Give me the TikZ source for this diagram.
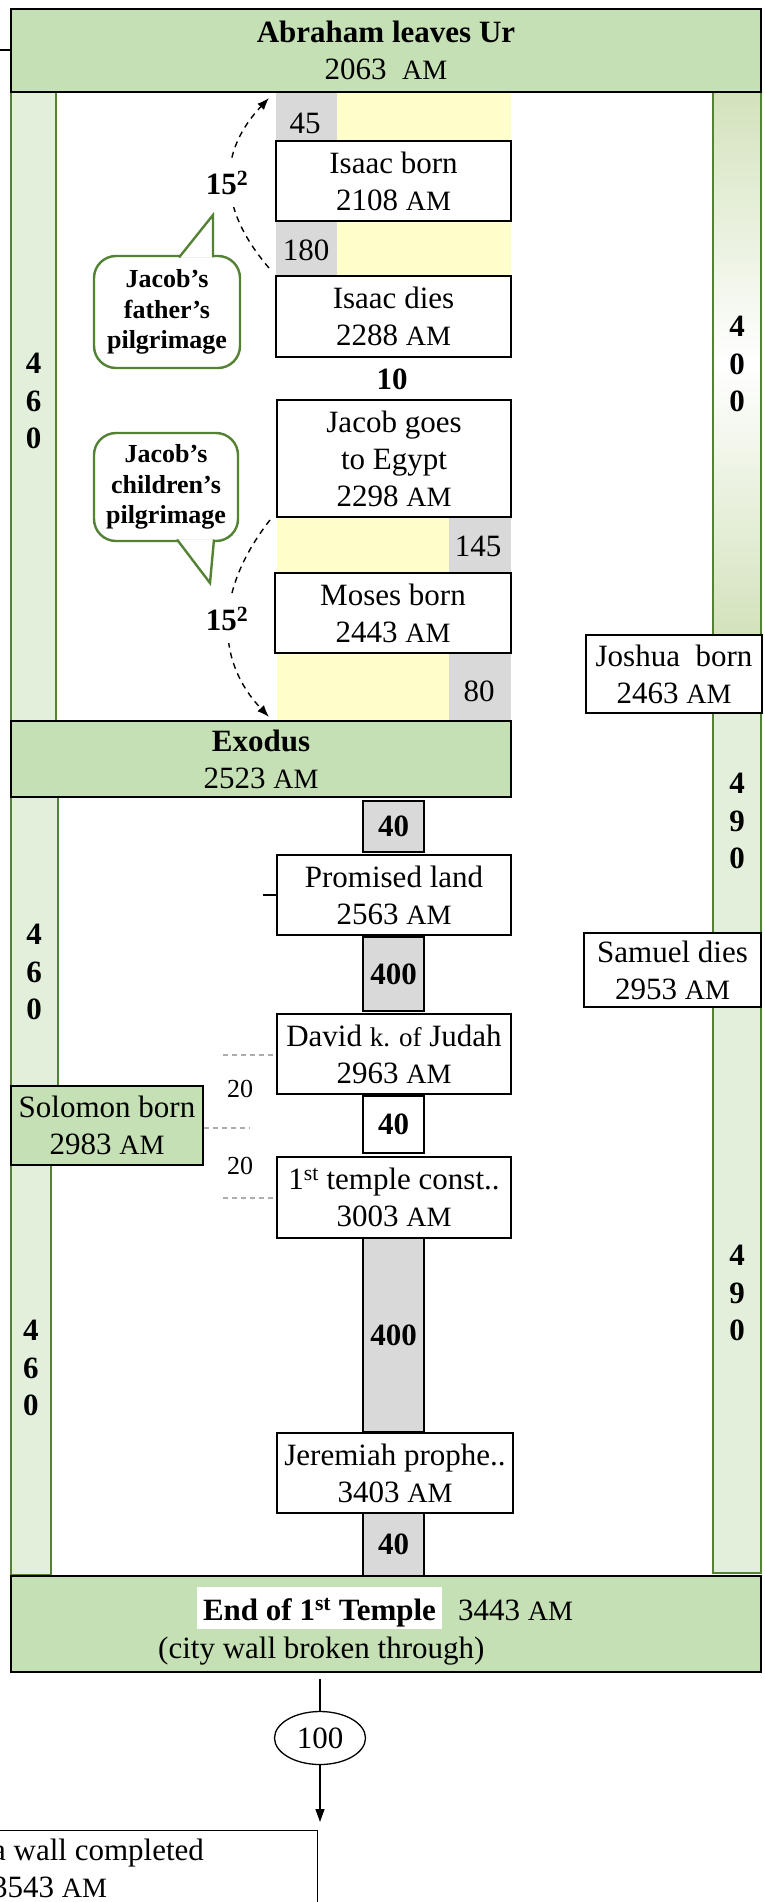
\documentclass[tikz,border=0pt]{standalone}
\usepackage{fontspec}
\setmainfont{Liberation Serif}
\usetikzlibrary{calc, arrows.meta, shapes.geometric}

\definecolor{lightgreen}{HTML}{C5E0B4}
\definecolor{palegreen}{HTML}{E2EFDA}
\definecolor{shadegreen}{HTML}{D3E2BC}
\definecolor{edgegreen}{HTML}{548235}
\definecolor{paleyellow}{HTML}{FFFFCC}
\definecolor{cellgray}{HTML}{D9D9D9}
\definecolor{dashgray}{HTML}{ADADAD}

\newcommand{\amyr}{{\fontsize{28}{37}\selectfont AM}}

\begin{document}
\begin{tikzpicture}[x=1pt, y=-1pt,
    font=\fontsize{31}{37}\selectfont,
    evbox/.style={draw, line width=1.3pt, fill=white, align=center,
        inner sep=0pt, minimum width=235pt, minimum height=80pt},
    greenbox/.style={evbox, fill=lightgreen},
    yearbox/.style={draw, line width=2.2pt, fill=cellgray, inner sep=0pt,
        minimum width=61pt, font=\bfseries\fontsize{31}{37}\selectfont},
    bar/.style={draw=edgegreen, line width=2.2pt, fill=palegreen},
    digits/.style={align=center, inner sep=0pt,
        font=\bfseries\fontsize{31}{37.5}\selectfont},
    callout/.style={draw=edgegreen, line width=2.4pt, fill=white},
    callouttext/.style={align=center, inner sep=0pt,
        font=\bfseries\fontsize{26}{30.5}\selectfont},
    pilgrim/.style={dashed, dash pattern=on 6pt off 5pt, line width=1.4pt,
        -{Latex[length=12pt, width=9pt]}},
    square/.style={fill=white, inner xsep=3pt, inner ysep=12pt,
        font=\bfseries\fontsize{31}{37}\selectfont},
    gapline/.style={draw=dashgray, line width=1.5pt, dash pattern=on 5pt off 4pt},
    small/.style={inner sep=0pt, font=\fontsize{26}{30}\selectfont}]

    \clip (0,0) rectangle (765,1902);
    \useasboundingbox (0,0) rectangle (765,1902);

    % side bars
    \draw[bar] (11,92) rectangle (56,721);
    \draw[bar] (11,797) rectangle (58,1140);
    \draw[bar] (11,1140) rectangle (51,1575);
    \draw[bar, top color=shadegreen, bottom color=shadegreen, middle color=white]
        (713,92) rectangle (761,635);
    \draw[bar] (713,713) rectangle (761,933);
    \draw[bar] (713,1007) rectangle (761,1573);

    \node[digits] (l460a) at (33.5,401) {4\\6\\0};
    \node[digits] (l460b) at (34,972) {4\\6\\0};
    \node[digits] (l460c) at (31,1368) {4\\6\\0};
    \node[digits] (r400) at (737,364) {4\\0\\0};
    \node[digits] (r490a) at (737,821) {4\\9\\0};
    \node[digits] (r490b) at (737,1293) {4\\9\\0};

    % coloured year cells
    \fill[cellgray] (276,92) rectangle (337,141);
    \fill[paleyellow] (337,92) rectangle (511,141);
    \fill[cellgray] (276,221) rectangle (337,276);
    \fill[paleyellow] (337,221) rectangle (511,276);
    \fill[paleyellow] (277,517) rectangle (449,573);
    \fill[cellgray] (449,517) rectangle (511,573);
    \fill[paleyellow] (277,653) rectangle (449,721);
    \fill[cellgray] (449,653) rectangle (511,721);
    \node (c45) at (305,123) {45};
    \node (c180) at (306,250) {180};
    \node (c145) at (478,546) {145};
    \node (c80) at (479,691) {80};

    % main column
    \node[greenbox, minimum width=750pt, minimum height=83pt] (ur) at (386,50.5)
        {\textbf{Abraham leaves Ur}\\2063~ \amyr};
    \node[evbox] (isaacb) at (393.5,181) {Isaac born\\2108 \amyr};
    \node[evbox, minimum height=81pt] (isaacd) at (393.5,316.5) {Isaac dies\\2288 \amyr};
    \node[font=\bfseries\fontsize{31}{37}\selectfont] (ten) at (392,379) {10};
    \node[evbox, minimum width=234pt, minimum height=117pt] (jacob) at (394,458.5)
        {Jacob goes\\to Egypt\\2298 \amyr};
    \node[evbox, minimum width=236pt] (moses) at (393,613) {Moses born\\2443 \amyr};
    \node[greenbox, minimum width=500pt, minimum height=76pt] (exodus) at (261,759)
        {\textbf{Exodus}\\2523 \amyr};
    \node[yearbox, minimum height=51pt] (y40a) at (393.5,826.5) {40};
    \node[evbox, minimum width=234pt] (promised) at (394,895) {Promised land\\2563 \amyr};
    \node[yearbox, minimum height=74pt] (y400a) at (393.5,974) {400};
    \node[evbox, minimum width=234pt] (david) at (394,1054)
        {David {\fontsize{27}{37}\selectfont k. of} Judah\\2963 \amyr};
    \node[yearbox, fill=white, minimum height=57pt] (y40b) at (393.5,1124.5) {40};
    \node[evbox, minimum width=234pt, minimum height=81pt] (temple) at (394,1197.5)
        {1\textsuperscript{st} temple const..\\3003 \amyr};
    \node[yearbox, minimum height=194pt] (y400b) at (393.5,1335) {400};
    \node[evbox, minimum width=236pt] (jeremiah) at (395,1473)
        {Jeremiah prophe..\\3403 \amyr};
    \node[yearbox, minimum height=63pt] (y40c) at (393.5,1544.5) {40};
    \node[greenbox, minimum width=750pt, minimum height=96pt] (endbox) at (386,1624) {};
    \node[fill=white, inner sep=0pt, minimum width=245pt, text height=33pt,
        text depth=9pt, anchor=base] (endtitle) at (319.5,1620)
        {\textbf{End of 1\textsuperscript{st} Temple}};
    \node[anchor=base west, inner sep=0pt] (endyear) at (458,1620) {3443 \amyr};
    \node[anchor=base west, inner sep=0pt] (endnote) at (158,1658)
        {(city wall broken through)};

    % right column
    \node[evbox, minimum width=176pt, minimum height=78pt] (joshua) at (674,674)
        {Joshua~ born\\2463 \amyr};
    \node[evbox, minimum width=177pt, minimum height=74pt] (samuel) at (672.5,970)
        {Samuel dies\\2953 \amyr};
    \node[greenbox, minimum width=192pt, minimum height=79pt] (solomon) at (107,1125.5)
        {Solomon born\\2983 \amyr};

    % little ticks
    \coordinate (urtick) at (0,50);
    \draw[line width=1.3pt] (urtick) -- (urtick -| ur.west);
    \coordinate (landtick) at (263,895);
    \draw[line width=1.3pt] (landtick) -- (promised.west);

    % 20 + 20 years
    \coordinate (davidgap) at (223,1055);
    \coordinate (solgap) at (250,1128);
    \coordinate (templegap) at (223,1198);
    \draw[gapline] (davidgap) -- (davidgap -| david.west);
    \draw[gapline] (solgap -| solomon.east) -- (solgap);
    \draw[gapline] (templegap) -- (templegap -| temple.west);
    \node[small] (twentya) at (240,1089) {20};
    \node[small] (twentyb) at (240,1166) {20};

    % 15^2 arrows
    \coordinate (fa) at (269,268);
    \coordinate (fb) at (269,98);
    \coordinate (ca) at (270,520);
    \coordinate (cb) at (269,717);
    \draw[pilgrim] (fa) .. controls (215,205) and (220,150) .. (fb);
    \draw[pilgrim] (ca) .. controls (215,590) and (215,660) .. (cb);
    \node[square] (sqa) at (227,183) {15\textsuperscript{2}};
    \node[square] (sqb) at (227,619) {15\textsuperscript{2}};

    % callouts
    \draw[callout, rounded corners=22pt] (94,256) rectangle (240,368);
    \filldraw[callout] (179,257.5) -- (213,215) -- (213,257.5);
    \node[callouttext] (father) at (167,312) {Jacob's\\father's\\pilgrimage};
    \draw[callout, rounded corners=22pt] (94,433) rectangle (238,541);
    \filldraw[callout] (177,539.5) -- (210,583) -- (214,539.5);
    \node[callouttext] (children) at (166,487) {Jacob's\\children's\\pilgrimage};

    % after the first temple
    \node[draw, ellipse, line width=1.3pt, minimum width=91pt, minimum height=53pt,
        inner sep=0pt] (hundred) at (320,1738) {100};
    \coordinate (endtap) at (320,1679);
    \coordinate (wallin) at (320,1822);
    \draw[line width=1.3pt] (endtap) -- (hundred.north);
    \draw[line width=1.3pt, -{Triangle[length=13pt, width=9pt]}] (hundred.south) -- (wallin);
    \node[draw, line width=1.3pt, minimum width=420pt, minimum height=130pt,
        anchor=north east] (wall) at (318,1830) {};
    \node[anchor=north west, align=left, inner sep=0pt] (walltext) at (-8,1839)
        {a wall completed\\3543 \amyr};
\end{tikzpicture}
\end{document}
